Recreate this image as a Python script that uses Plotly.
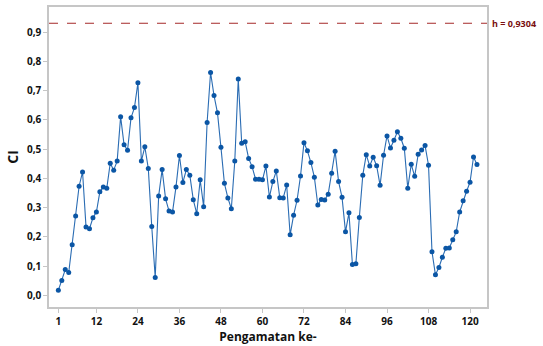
import plotly.graph_objects as go

# Observation index and CI values
obs = list(range(1, 123))
ci = [
    0.017, 0.051, 0.088, 0.078, 0.173, 0.271, 0.373, 0.422, 0.234, 0.228,
    0.265, 0.285, 0.354, 0.370, 0.366, 0.452, 0.428, 0.459, 0.611, 0.515,
    0.496, 0.607, 0.642, 0.727, 0.459, 0.508, 0.434, 0.235, 0.061, 0.340,
    0.430, 0.330, 0.288, 0.285, 0.370, 0.478, 0.386, 0.430, 0.411, 0.327,
    0.279, 0.395, 0.303, 0.591, 0.762, 0.683, 0.624, 0.506, 0.383, 0.333,
    0.296, 0.459, 0.740, 0.520, 0.525, 0.468, 0.440, 0.397, 0.397, 0.395,
    0.442, 0.336, 0.389, 0.425, 0.334, 0.333, 0.377, 0.207, 0.274, 0.325,
    0.408, 0.522, 0.494, 0.454, 0.404, 0.309, 0.328, 0.326, 0.346, 0.417,
    0.493, 0.389, 0.335, 0.217, 0.282, 0.105, 0.108, 0.266, 0.411, 0.481,
    0.442, 0.472, 0.443, 0.376, 0.479, 0.545, 0.504, 0.530, 0.559, 0.537,
    0.503, 0.366, 0.448, 0.407, 0.482, 0.497, 0.512, 0.445, 0.149, 0.070,
    0.095, 0.130, 0.161, 0.162, 0.190, 0.217, 0.285, 0.323, 0.356, 0.387,
    0.473, 0.447,
]
h_value = 0.9304

x_ticks = [1, 12, 24, 36, 48, 60, 72, 84, 96, 108, 120]
y_ticks = [0.0, 0.1, 0.2, 0.3, 0.4, 0.5, 0.6, 0.7, 0.8, 0.9]
y_ticktext = [f"{v:.1f}".replace(".", ",") for v in y_ticks]
h_label = "h = " + f"{h_value:.4f}".replace(".", ",")

blue = "#0b56a5"
frame = "#c6c6c6"
font_family = "Open Sans, DejaVu Sans, sans-serif"

fig = go.Figure()
fig.add_trace(go.Scatter(
    x=obs, y=ci, mode="lines+markers",
    line=dict(color="#2a6cb3", width=1.1),
    marker=dict(color=blue, size=5, symbol="circle"),
    showlegend=False,
))

fig.add_hline(y=h_value, line=dict(color="#a52a2a", width=1, dash="dash"))
fig.add_annotation(
    x=1, xref="paper", y=h_value, yref="y", text=h_label,
    showarrow=False, xanchor="left", yanchor="middle", xshift=3,
    font=dict(family=font_family, size=9, color="#7a1010", weight="bold"),
)

axis_common = dict(
    showline=True, linecolor=frame, linewidth=1.5, mirror=True,
    showgrid=False, zeroline=False, ticks="outside", ticklen=4,
    tickcolor=frame, tickwidth=1,
    tickfont=dict(family=font_family, size=10, color="#111", weight="bold"),
)

fig.update_xaxes(
    range=[-1.7, 124.9], tickvals=x_ticks,
    title=dict(text="Pengamatan ke-", standoff=3,
               font=dict(family=font_family, size=12, color="#111", weight="bold")),
    **axis_common,
)
fig.update_yaxes(
    range=[-0.040, 0.986], tickvals=y_ticks, ticktext=y_ticktext,
    title=dict(text="CI", standoff=5,
               font=dict(family=font_family, size=14, color="#111", weight="bold")),
    **axis_common,
)

fig.update_layout(
    width=543, height=346,
    margin=dict(l=49, r=56, t=5, b=39),
    paper_bgcolor="white", plot_bgcolor="white",
)

fig.write_html("out.html")
